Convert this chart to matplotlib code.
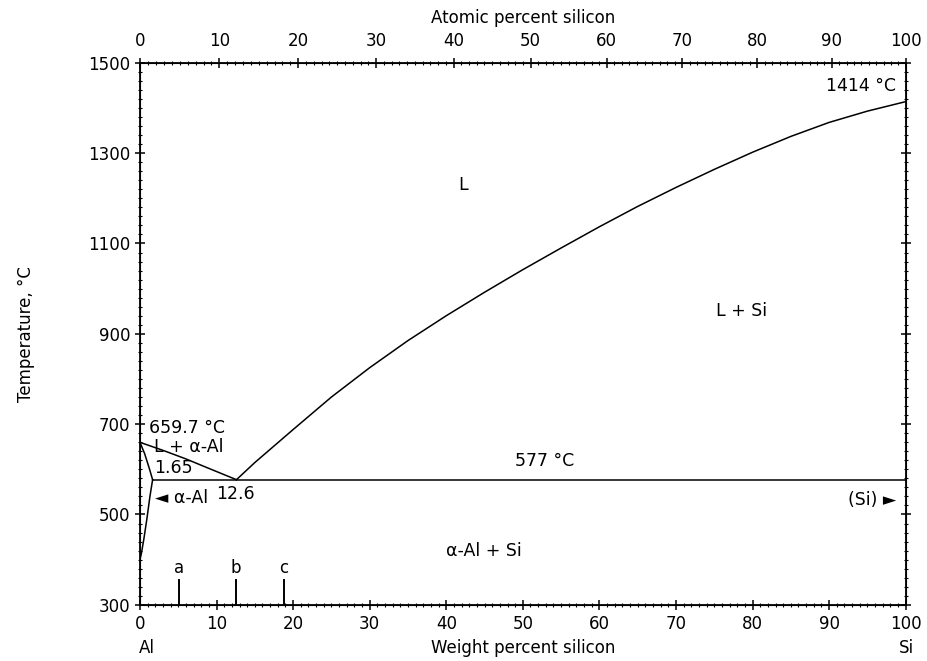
import numpy as np
import matplotlib
matplotlib.use('Agg')
import matplotlib.pyplot as plt
from matplotlib.ticker import FixedLocator, MultipleLocator

plt.rcParams['font.family'] = ['DejaVu Sans']

# liquidus, Si side (weight % Si, deg C)
liq_si_w = [12.6, 15, 20, 25, 30, 35, 40, 45, 50, 55, 60, 65, 70, 75, 80, 85, 90, 95, 100]
liq_si_t = [577, 615, 688, 760, 825, 885, 940, 992, 1042, 1090, 1137, 1182, 1224,
            1264, 1302, 1337, 1368, 1393, 1414]
# liquidus, Al side
liq_al_w = [0, 3, 6, 9, 12.6]
liq_al_t = [659.7, 642, 623, 602, 577]
# solidus and solvus of alpha-Al
sol_w = [0, 0.6, 1.2, 1.65]
sol_t = [659.7, 635, 603, 577]
solv_w = [1.65, 1.3, 0.9, 0.5, 0.2, 0]
solv_t = [577, 540, 490, 445, 415, 400]
eut_w = [1.65, 100]
eut_t = [577, 577]
# alloy markers
alloy_names = ['a', 'b', 'c']
alloy_w = [5.1, 12.5, 18.8]

temp_ticks = np.arange(300, 1501, 200)
at_ticks = np.arange(0, 101, 10)
at_minor = np.arange(0, 101, 1)
M_SI, M_AL = 28.086, 26.982


def at2wt(a):
    a = np.asarray(a, dtype=float)
    return 100 * a * M_SI / (a * M_SI + (100 - a) * M_AL)


fig = plt.figure(figsize=(9.27, 6.61), dpi=100)
ax = fig.add_axes([0.151, 0.085, 0.826, 0.820])

k = dict(color='black', lw=1.1)
ax.plot(liq_si_w, liq_si_t, **k)
ax.plot(liq_al_w, liq_al_t, **k)
ax.plot(sol_w, sol_t, **k)
ax.plot(solv_w, solv_t, **k)
ax.plot(eut_w, eut_t, **k)
for n, w in zip(alloy_names, alloy_w):
    ax.plot([w, w], [300, 355], color='black', lw=1.4)
    ax.text(w, 362, n, ha='center', va='bottom', fontsize=12)

fs = 12.5
ax.text(1.2, 692, '659.7 °C', fontsize=fs, va='center')
ax.text(1.8, 650, 'L + α-Al', fontsize=fs, va='center')
ax.text(1.8, 603, '1.65', fontsize=fs, va='center')
ax.text(1.9, 537, '◄ α-Al', fontsize=fs, va='center')
ax.text(10.0, 546, '12.6', fontsize=fs, va='center')
ax.text(52.9, 619, '577 °C', fontsize=fs, va='center', ha='center')
ax.text(98.8, 532, '(Si) ►', fontsize=fs, va='center', ha='right')
ax.text(44.9, 420, 'α-Al + Si', fontsize=fs, va='center', ha='center')
ax.text(42.2, 1230, 'L', fontsize=fs, va='center', ha='center')
ax.text(78.6, 951, 'L + Si', fontsize=fs, va='center', ha='center')
ax.text(98.8, 1449, '1414 °C', fontsize=fs, va='center', ha='right')

ax.set_xlim(0, 100)
ax.set_ylim(300, 1500)
ax.xaxis.set_major_locator(MultipleLocator(10))
ax.xaxis.set_minor_locator(MultipleLocator(1))
ax.yaxis.set_major_locator(FixedLocator(temp_ticks))
ax.yaxis.set_minor_locator(MultipleLocator(20))
ax.tick_params(which='major', direction='inout', length=7, width=1.1,
               labelsize=12, right=True)
ax.tick_params(which='minor', direction='inout', length=3.5, width=0.8, right=True)
for s in ax.spines.values():
    s.set_linewidth(1.3)

ax.set_ylabel('Temperature, °C', fontsize=12, labelpad=38)
ax.set_xlabel('Weight percent silicon', fontsize=12, labelpad=5)

top = ax.twiny()
top.set_xlim(0, 100)
top.xaxis.set_major_locator(FixedLocator(at2wt(at_ticks)))
top.xaxis.set_minor_locator(FixedLocator(at2wt(at_minor)))
top.set_xticklabels([str(v) for v in at_ticks])
top.tick_params(which='major', direction='inout', length=7, width=1.1, labelsize=12, pad=6)
top.tick_params(which='minor', direction='inout', length=3.5, width=0.8)
top.set_xlabel('Atomic percent silicon', fontsize=12, labelpad=6)

fig.text(0.158, 0.012, 'Al', fontsize=12, ha='center')
fig.text(0.978, 0.012, 'Si', fontsize=12, ha='center')

fig.savefig('out.png', dpi=100)
